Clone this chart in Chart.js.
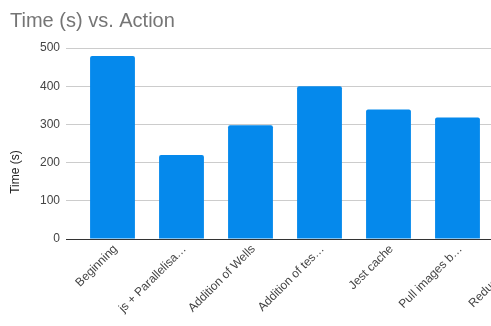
<!DOCTYPE html>
<html>
<head>
<meta charset="utf-8">
<script src="https://cdn.jsdelivr.net/npm/chart.js@4"></script>
<style>
  body { margin: 0; overflow: hidden; background: #fff; }
  #wrap { width: 580px; height: 326px; }
</style>
</head>
<body>
<div id="wrap"><canvas id="timeChart" width="580" height="326"></canvas></div>
<script>
// Chart data
const actions = ["Beginning", "js + Parallelisa\u2026", "Addition of Wells", "Addition of tes\u2026", "Jest cache", "Pull images b\u2026", "Reduced test\u2026"];
const timeSeconds = [479, 220, 298, 400, 339, 318, 300];
const yTicks = [0, 100, 200, 300, 400, 500];

const fontFamily = "'Liberation Sans', Arial, sans-serif";

// y axis title, centred like the original (on the whole plot + labels height)
const yTitlePlugin = {
    id: "yTitle",
    afterDraw(chart) {
        let ctx = chart.ctx;
        ctx.save();
        ctx.translate(16, 172);
        ctx.rotate(-Math.PI / 2);
        ctx.font = "12px " + fontFamily;
        ctx.fillStyle = "#222";
        ctx.textAlign = "center";
        ctx.textBaseline = "middle";
        ctx.fillText("Time (s)", 0, 0);
        ctx.restore();
    }
};

new Chart(document.getElementById("timeChart").getContext("2d"), {
    type: "bar",
    data: {
        labels: actions,
        datasets: [{
            label: "Time (s)",
            data: timeSeconds,
            backgroundColor: "#0589ec",
            borderRadius: { topLeft: 2, topRight: 2 },
            borderSkipped: "bottom",
            categoryPercentage: 1,
            barPercentage: 0.65
        }]
    },
    options: {
        responsive: false,
        animation: false,
        layout: { padding: { left: 10, right: 19, top: 0, bottom: 0 } },
        plugins: {
            legend: { display: false },
            tooltip: { enabled: false },
            title: {
                display: true,
                text: "Time (s) vs. Action",
                align: "start",
                color: "#757575",
                font: { family: fontFamily, size: 20, weight: "normal" },
                padding: { top: 9, bottom: 15 }
            }
        },
        scales: {
            x: {
                afterFit(scale) { scale.height = 87; },
                grid: { display: false },
                border: { display: false },
                ticks: {
                    autoSkip: false,
                    minRotation: 45,
                    maxRotation: 45,
                    padding: -5,
                    labelOffset: 3,
                    color: "#444",
                    font: { family: fontFamily, size: 12 }
                }
            },
            y: {
                min: 0,
                max: 500,
                afterFit(scale) { scale.width = 68; },
                afterBuildTicks(scale) { scale.ticks = yTicks.map(v => ({ value: v })); },
                border: { display: false },
                grid: {
                    color: c => (c.tick && c.tick.value === 0 ? "#333" : "#ccc"),
                    tickColor: c => (c.tick && c.tick.value === 0 ? "#333" : "#ccc"),
                    tickLength: 12,
                    lineWidth: 1
                },
                ticks: {
                    padding: 6,
                    color: "#444",
                    font: { family: fontFamily, size: 12 }
                }
            }
        }
    },
    plugins: [yTitlePlugin]
});
</script>
</body>
</html>
